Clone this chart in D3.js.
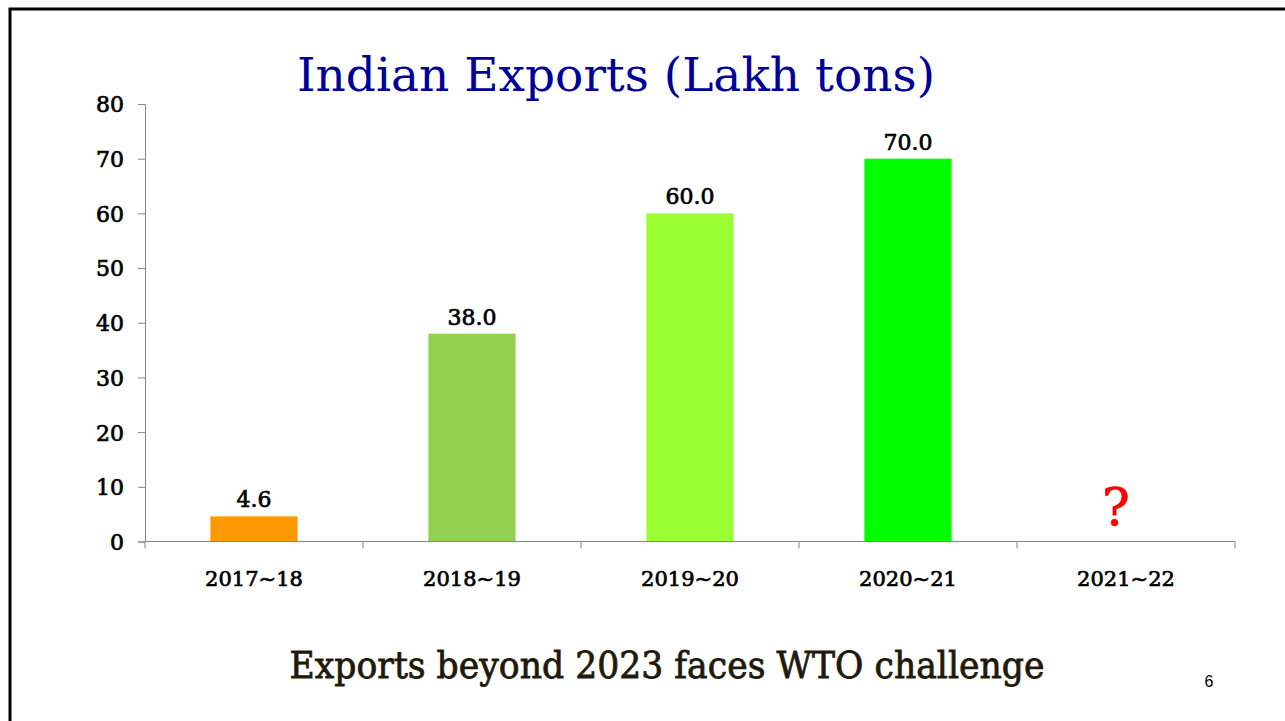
<!DOCTYPE html>
<html>
<head>
<meta charset="utf-8">
<script src="https://cdn.jsdelivr.net/npm/d3@7"></script>
<style>
  body { margin: 0; background: #fff; }
  svg { display: block; }
</style>
</head>
<body>
<script>
// chart data
var years = ["2017-18", "2018-19", "2019-20", "2020-21", "2021-22"];
var exportsLakh = [4.6, 38.0, 60.0, 70.0, null];
var barColors = ["#FF9900", "#92D050", "#99FF33", "#00FF00", "none"];
var yTicks = [0, 10, 20, 30, 40, 50, 60, 70, 80];

var w = 1285, h = 721;
var plotLeft = 145, plotRight = 1235, plotTop = 104, plotBottom = 541.5;

var svg = d3.select("body").append("svg")
  .attr("width", w)
  .attr("height", h);

// slide border (top and left edges only visible)
svg.append("path")
  .attr("d", "M10,721 L10,9 L1285,9")
  .attr("fill", "none")
  .attr("stroke", "#000")
  .attr("stroke-width", 3);

// title
svg.append("text")
  .attr("x", 616).attr("y", 91)
  .attr("text-anchor", "middle")
  .attr("font-family", "DejaVu Serif")
  .attr("font-size", 46)
  .attr("fill", "#000099")
  .attr("textLength", 638)
  .attr("lengthAdjust", "spacingAndGlyphs")
  .text("Indian Exports (Lakh tons)");

// scales
var xScale = d3.scaleBand()
  .domain(years)
  .range([plotLeft, plotRight])
  .paddingInner(0.6)
  .paddingOuter(0.3);

var yScale = d3.scaleLinear()
  .domain([0, 80])
  .range([plotBottom, plotTop]);

var axisColor = "#868686";
var labelFont = "DejaVu Serif";

// thicker-than-regular look for labels (Bookman-like)
function heavy(sel, sw) {
  sel.attr("stroke", "#000").attr("stroke-width", sw).attr("paint-order", "stroke");
}

// y-axis
var yAxis = d3.axisLeft(yScale).tickValues(yTicks).tickSize(7).tickPadding(14);
var gy = svg.append("g")
  .attr("transform", "translate(" + plotLeft + ",0)")
  .call(yAxis);
gy.select(".domain").attr("stroke", axisColor);
gy.selectAll(".tick line").attr("stroke", axisColor);
gy.selectAll(".tick text")
  .attr("font-family", labelFont)
  .attr("font-size", 22)
  .attr("fill", "#000")
  .attr("dy", "0.36em")
  .call(heavy, 0.7);

// bars
svg.selectAll("rect.bar")
  .data(years.map((d, i) => ({year: d, val: exportsLakh[i], color: barColors[i]})).filter(d => d.val != null))
  .enter().append("rect")
  .attr("class", "bar")
  .attr("x", d => xScale(d.year))
  .attr("y", d => yScale(d.val))
  .attr("width", xScale.bandwidth())
  .attr("height", d => yScale(0) - yScale(d.val))
  .attr("fill", d => d.color);

// x-axis (category boundaries as ticks)
var xEdge = d3.scaleLinear().domain([0, years.length]).range([plotLeft, plotRight]);
var gx = svg.append("g")
  .attr("transform", "translate(0," + plotBottom + ")");
gx.append("line")
  .attr("x1", plotLeft).attr("x2", plotRight)
  .attr("stroke", axisColor);
gx.selectAll("line.tk")
  .data(d3.range(years.length + 1))
  .enter().append("line")
  .attr("class", "tk")
  .attr("x1", d => xEdge(d)).attr("x2", d => xEdge(d))
  .attr("y1", 0).attr("y2", 7)
  .attr("stroke", axisColor);
gx.selectAll("text")
  .data(years)
  .enter().append("text")
  .attr("x", d => xScale(d) + xScale.bandwidth() / 2)
  .attr("y", 44)
  .attr("text-anchor", "middle")
  .attr("font-family", labelFont)
  .attr("font-size", 21)
  .attr("fill", "#000")
  .text(d => d.replace("-", "~"))
  .call(heavy, 0.7);

// data labels
svg.selectAll("text.lbl")
  .data(years.map((d, i) => ({year: d, val: exportsLakh[i]})))
  .enter().append("text")
  .attr("class", "lbl")
  .attr("x", d => xScale(d.year) + xScale.bandwidth() / 2 + (d.val == null ? -10 : 0))
  .attr("y", d => d.val == null ? yScale(0) - 17 : yScale(d.val) - 9)
  .attr("text-anchor", "middle")
  .attr("font-family", labelFont)
  .attr("font-size", d => d.val == null ? 52 : 22)
  .attr("fill", d => d.val == null ? "#FF0000" : "#000")
  .attr("stroke", d => d.val == null ? "#FF0000" : "#000")
  .attr("stroke-width", 0.7)
  .text(d => d.val == null ? "?" : d.val.toFixed(1));

// footer
svg.append("text")
  .attr("x", 667).attr("y", 678)
  .attr("text-anchor", "middle")
  .attr("font-family", "DejaVu Serif")
  .attr("font-size", 37)
  .attr("fill", "#1F1A0A")
  .attr("stroke", "#1F1A0A")
  .attr("stroke-width", 0.8)
  .attr("textLength", 755)
  .attr("lengthAdjust", "spacingAndGlyphs")
  .text("Exports beyond 2023 faces WTO challenge");

svg.append("text")
  .attr("x", 1209).attr("y", 687)
  .attr("text-anchor", "middle")
  .attr("font-family", "Liberation Sans")
  .attr("font-size", 16)
  .attr("fill", "#000")
  .text("6");
</script>
</body>
</html>
